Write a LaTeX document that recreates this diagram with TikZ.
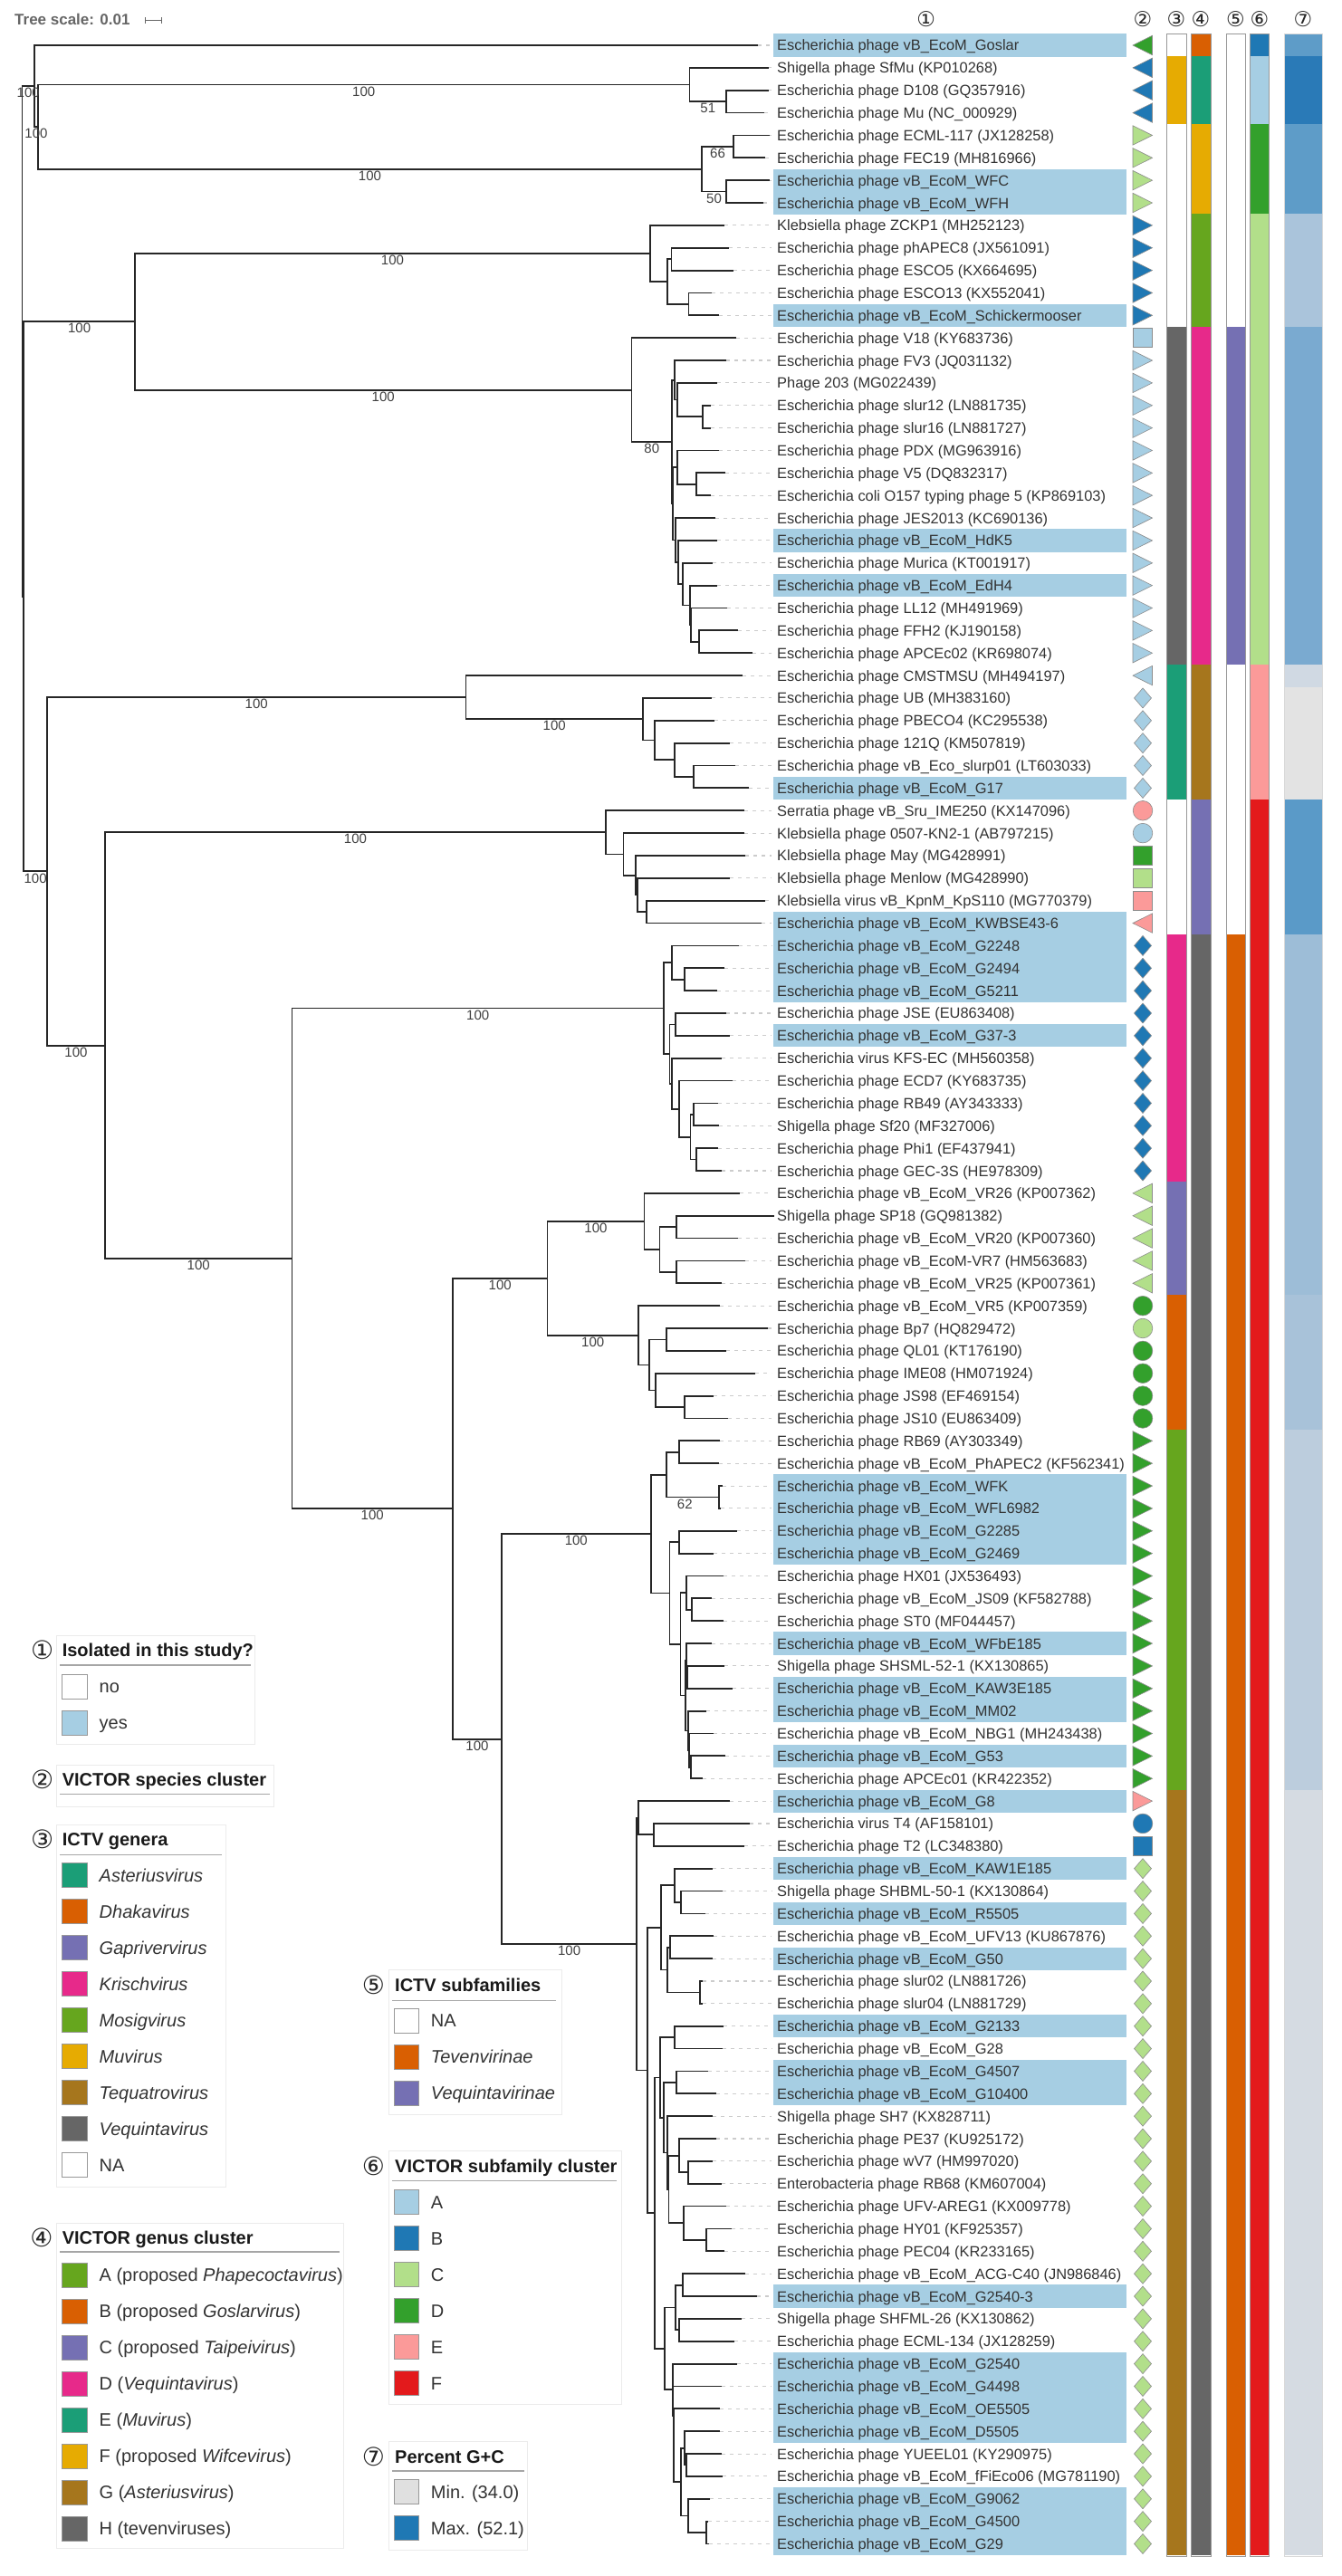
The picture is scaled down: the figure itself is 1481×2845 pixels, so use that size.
\documentclass[tikz,border=0pt]{standalone}
\usepackage{fontspec}
\setmainfont{Liberation Sans}
\newfontfamily\dejavu{DejaVu Sans}
\usetikzlibrary{calc}
\definecolor{hlc}{HTML}{A6CEE3}
\definecolor{pA}{HTML}{A6CEE3}
\definecolor{pB}{HTML}{1F78B4}
\definecolor{pC}{HTML}{B2DF8A}
\definecolor{pD}{HTML}{33A02C}
\definecolor{pE}{HTML}{FB9A99}
\definecolor{pF}{HTML}{E31A1C}
\definecolor{dTeal}{HTML}{1B9E77}
\definecolor{dOrange}{HTML}{D95F02}
\definecolor{dPurple}{HTML}{7570B3}
\definecolor{dPink}{HTML}{E7298A}
\definecolor{dGreen}{HTML}{66A61E}
\definecolor{dYellow}{HTML}{E6AB02}
\definecolor{dBrown}{HTML}{A6761D}
\definecolor{dGray}{HTML}{666666}
\definecolor{gcA}{HTML}{5E9CC8}
\definecolor{gcB}{HTML}{2A7AB7}
\definecolor{gcC}{HTML}{AAC4DB}
\definecolor{gcD}{HTML}{7AAAD0}
\definecolor{gcE}{HTML}{D0D9E3}
\definecolor{gcF}{HTML}{E3E3E3}
\definecolor{gcG}{HTML}{5A9AC8}
\definecolor{gcH}{HTML}{9DBDD7}
\definecolor{gcI}{HTML}{A8C2D9}
\definecolor{gcJ}{HTML}{BCCDDD}
\definecolor{gcK}{HTML}{D5DBE2}
\definecolor{gcMin}{HTML}{E0E0E0}

\newcommand{\leafrow}[4]{%
  \pgfmathsetmacro\yy{-(50+(#1-1)*24.86)}%
  \ifnum#3=1 \fill[hlc] (853.5,\yy-12.6) rectangle (1244,\yy+12.6);\fi
  \coordinate (t#1) at (#2,\yy);
  \coordinate (s#1) at (852,\yy);
  \draw[leader] (t#1) -- (s#1);
  \node[leaflab] (lab#1) at (858,\yy) {#4};
}
\newcommand{\tnode}[4]{%
  \path let \p1=(#3), \p2=(#4) in (#2pt,{0.5*(\y1+\y2)}) coordinate (#1);
  \draw[branch] (#3) -- (#1 |- #3) -- (#1 |- #4) -- (#4);
}
\newcommand{\bootlab}[3]{\node[bslab] (bs#2) at ($(#1 |- #2)!0.5!(#2)+(0,-7.5)$) {#3};}
\newcommand{\symRow}[3]{%
  \pgfmathsetmacro\yy{-(50+(#1-1)*24.86)}%
  \csname sym#2\endcsname{\yy}{#3}}
\newcommand{\symR}[2]{\filldraw[sym,fill=#2] (1251,#1+10.7) -- (1272.5,#1) -- (1251,#1-10.7) -- cycle;}
\newcommand{\symL}[2]{\filldraw[sym,fill=#2] (1272.5,#1+10.7) -- (1251,#1) -- (1272.5,#1-10.7) -- cycle;}
\newcommand{\symD}[2]{\filldraw[sym,fill=#2] (1262,#1+11) -- (1271.5,#1) -- (1262,#1-11) -- (1252.5,#1) -- cycle;}
\newcommand{\symC}[2]{\filldraw[sym,fill=#2] (1262,#1) circle[radius=10.8];}
\newcommand{\symS}[2]{\filldraw[sym,fill=#2] (1251.5,#1-10.5) rectangle (1272.5,#1+10.5);}
\newcommand{\stripseg}[5]{\fill[#5] (#1,{-(50+(#3-1)*24.86-12.43)}) rectangle (#2,{-(50+(#4-1)*24.86+12.43)});}
\newcommand{\lgitem}[6]{\draw[swatch,fill=#5] (#2,#4-13.5) rectangle (#2+27.4,#4+13.5); \node[lgtext] (#1) at (#3,#4) {#6};}

\begin{document}
\begin{tikzpicture}[x=1pt,y=1pt,
  branch/.style={line width=1.8pt, draw=black!85},
  leader/.style={draw=black!20, line width=1.1pt, dash pattern=on 4pt off 5pt},
  leaflab/.style={anchor=west, inner sep=0pt, font=\fontsize{16.4}{18}\selectfont, text=black!80, text height=12pt, text depth=0pt},
  bslab/.style={inner sep=0pt, font=\fontsize{15}{16}\selectfont, text=black!75},
  sym/.style={draw=black!45, line width=0.6pt},
  swatch/.style={draw=black!40, line width=0.8pt},
  lgtitle/.style={anchor=west, inner sep=0pt, font=\bfseries\fontsize{20}{22}\selectfont, text=black!90, text height=14.3pt, text depth=0pt},
  lgtext/.style={anchor=west, inner sep=0pt, font=\fontsize{20}{22}\selectfont, text=black!80, text height=14.3pt, text depth=0pt},
  lgnum/.style={inner sep=0pt, font=\dejavu\fontsize{28}{30}\selectfont, text=black!85},
  hdr/.style={inner sep=0pt, font=\dejavu\fontsize{23}{25}\selectfont, text=black!85},
  lgbox/.style={draw=black!8, line width=0.8pt},
  uline/.style={draw=black!35, line width=1.4pt},
  stripe/.style={draw=black!40, line width=0.8pt}]
\fill[white] (0,0) rectangle (1481,-2845);
\useasboundingbox (0,0) rectangle (1481,-2845);

% tree scale
\node[anchor=west, inner sep=0pt, font=\bfseries\fontsize{17}{19}\selectfont, text=black!60] (tscale) at (16,-21.7) {Tree scale: 0.01};
\draw[black!60, line width=1pt] (160,-22.7) -- (178,-22.7) (160,-19.5) -- (160,-26) (178,-19.5) -- (178,-26);

% leaves
\leafrow{1}{837}{1}{Escherichia phage vB\_EcoM\_Goslar}
\leafrow{2}{849}{0}{Shigella phage SfMu (KP010268)}
\leafrow{3}{849}{0}{Escherichia phage D108 (GQ357916)}
\leafrow{4}{844}{0}{Escherichia phage Mu (NC\_000929)}
\leafrow{5}{850}{0}{Escherichia phage ECML-117 (JX128258)}
\leafrow{6}{845}{0}{Escherichia phage FEC19 (MH816966)}
\leafrow{7}{850}{1}{Escherichia phage vB\_EcoM\_WFC}
\leafrow{8}{843}{1}{Escherichia phage vB\_EcoM\_WFH}
\leafrow{9}{799.5}{0}{Klebsiella phage ZCKP1 (MH252123)}
\leafrow{10}{805}{0}{Escherichia phage phAPEC8 (JX561091)}
\leafrow{11}{810}{0}{Escherichia phage ESCO5 (KX664695)}
\leafrow{12}{786}{0}{Escherichia phage ESCO13 (KX552041)}
\leafrow{13}{794}{1}{Escherichia phage vB\_EcoM\_Schickermooser}
\leafrow{14}{813}{0}{Escherichia phage V18 (KY683736)}
\leafrow{15}{802}{0}{Escherichia phage FV3 (JQ031132)}
\leafrow{16}{792}{0}{Phage 203 (MG022439)}
\leafrow{17}{785}{0}{Escherichia phage slur12 (LN881735)}
\leafrow{18}{785}{0}{Escherichia phage slur16 (LN881727)}
\leafrow{19}{794}{0}{Escherichia phage PDX (MG963916)}
\leafrow{20}{801}{0}{Escherichia phage V5 (DQ832317)}
\leafrow{21}{785}{0}{Escherichia coli O157 typing phage 5 (KP869103)}
\leafrow{22}{790}{0}{Escherichia phage JES2013 (KC690136)}
\leafrow{23}{792}{1}{Escherichia phage vB\_EcoM\_HdK5}
\leafrow{24}{787}{0}{Escherichia phage Murica (KT001917)}
\leafrow{25}{792}{1}{Escherichia phage vB\_EcoM\_EdH4}
\leafrow{26}{803}{0}{Escherichia phage LL12 (MH491969)}
\leafrow{27}{815}{0}{Escherichia phage FFH2 (KJ190158)}
\leafrow{28}{831}{0}{Escherichia phage APCEc02 (KR698074)}
\leafrow{29}{820}{0}{Escherichia phage CMSTMSU (MH494197)}
\leafrow{30}{785.5}{0}{Escherichia phage UB (MH383160)}
\leafrow{31}{789}{0}{Escherichia phage PBECO4 (KC295538)}
\leafrow{32}{806}{0}{Escherichia phage 121Q (KM507819)}
\leafrow{33}{812}{0}{Escherichia phage vB\_Eco\_slurp01 (LT603033)}
\leafrow{34}{827}{1}{Escherichia phage vB\_EcoM\_G17}
\leafrow{35}{822}{0}{Serratia phage vB\_Sru\_IME250 (KX147096)}
\leafrow{36}{822}{0}{Klebsiella phage 0507-KN2-1 (AB797215)}
\leafrow{37}{823}{0}{Klebsiella phage May (MG428991)}
\leafrow{38}{806}{0}{Klebsiella phage Menlow (MG428990)}
\leafrow{39}{845}{0}{Klebsiella virus vB\_KpnM\_KpS110 (MG770379)}
\leafrow{40}{840.7}{1}{Escherichia phage vB\_EcoM\_KWBSE43-6}
\leafrow{41}{815.7}{1}{Escherichia phage vB\_EcoM\_G2248}
\leafrow{42}{800}{1}{Escherichia phage vB\_EcoM\_G2494}
\leafrow{43}{791.5}{1}{Escherichia phage vB\_EcoM\_G5211}
\leafrow{44}{802}{0}{Escherichia phage JSE (EU863408)}
\leafrow{45}{806}{1}{Escherichia phage vB\_EcoM\_G37-3}
\leafrow{46}{796.5}{0}{Escherichia virus KFS-EC (MH560358)}
\leafrow{47}{809}{0}{Escherichia phage ECD7 (KY683735)}
\leafrow{48}{792.7}{0}{Escherichia phage RB49 (AY343333)}
\leafrow{49}{794}{0}{Shigella phage Sf20 (MF327006)}
\leafrow{50}{792.7}{0}{Escherichia phage Phi1 (EF437941)}
\leafrow{51}{797}{0}{Escherichia phage GEC-3S (HE978309)}
\leafrow{52}{817}{0}{Escherichia phage vB\_EcoM\_VR26 (KP007362)}
\leafrow{53}{854.6}{0}{Shigella phage SP18 (GQ981382)}
\leafrow{54}{814.6}{0}{Escherichia phage vB\_EcoM\_VR20 (KP007360)}
\leafrow{55}{823}{0}{Escherichia phage vB\_EcoM-VR7 (HM563683)}
\leafrow{56}{796.5}{0}{Escherichia phage vB\_EcoM\_VR25 (KP007361)}
\leafrow{57}{795.4}{0}{Escherichia phage vB\_EcoM\_VR5 (KP007359)}
\leafrow{58}{847.5}{0}{Escherichia phage Bp7 (HQ829472)}
\leafrow{59}{802}{0}{Escherichia phage QL01 (KT176190)}
\leafrow{60}{834}{0}{Escherichia phage IME08 (HM071924)}
\leafrow{61}{788}{0}{Escherichia phage JS98 (EF469154)}
\leafrow{62}{803.6}{0}{Escherichia phage JS10 (EU863409)}
\leafrow{63}{795.4}{0}{Escherichia phage RB69 (AY303349)}
\leafrow{64}{794}{0}{Escherichia phage vB\_EcoM\_PhAPEC2 (KF562341)}
\leafrow{65}{798}{1}{Escherichia phage vB\_EcoM\_WFK}
\leafrow{66}{795.5}{1}{Escherichia phage vB\_EcoM\_WFL6982}
\leafrow{67}{813.5}{1}{Escherichia phage vB\_EcoM\_G2285}
\leafrow{68}{788.3}{1}{Escherichia phage vB\_EcoM\_G2469}
\leafrow{69}{799}{0}{Escherichia phage HX01 (JX536493)}
\leafrow{70}{786}{0}{Escherichia phage vB\_EcoM\_JS09 (KF582788)}
\leafrow{71}{799}{0}{Escherichia phage ST0 (MF044457)}
\leafrow{72}{786}{1}{Escherichia phage vB\_EcoM\_WFbE185}
\leafrow{73}{800}{0}{Shigella phage SHSML-52-1 (KX130865)}
\leafrow{74}{809}{1}{Escherichia phage vB\_EcoM\_KAW3E185}
\leafrow{75}{780}{1}{Escherichia phage vB\_EcoM\_MM02}
\leafrow{76}{788}{0}{Escherichia phage vB\_EcoM\_NBG1 (MH243438)}
\leafrow{77}{801}{1}{Escherichia phage vB\_EcoM\_G53}
\leafrow{78}{776}{0}{Escherichia phage APCEc01 (KR422352)}
\leafrow{79}{806}{1}{Escherichia phage vB\_EcoM\_G8}
\leafrow{80}{828}{0}{Escherichia virus T4 (AF158101)}
\leafrow{81}{821.7}{0}{Escherichia phage T2 (LC348380)}
\leafrow{82}{786.7}{1}{Escherichia phage vB\_EcoM\_KAW1E185}
\leafrow{83}{797.7}{0}{Shigella phage SHBML-50-1 (KX130864)}
\leafrow{84}{779.3}{1}{Escherichia phage vB\_EcoM\_R5505}
\leafrow{85}{788}{0}{Escherichia phage vB\_EcoM\_UFV13 (KU867876)}
\leafrow{86}{786.7}{1}{Escherichia phage vB\_EcoM\_G50}
\leafrow{87}{776}{0}{Escherichia phage slur02 (LN881726)}
\leafrow{88}{776}{0}{Escherichia phage slur04 (LN881729)}
\leafrow{89}{799}{1}{Escherichia phage vB\_EcoM\_G2133}
\leafrow{90}{797.7}{0}{Escherichia phage vB\_EcoM\_G28}
\leafrow{91}{781.7}{1}{Escherichia phage vB\_EcoM\_G4507}
\leafrow{92}{790.7}{1}{Escherichia phage vB\_EcoM\_G10400}
\leafrow{93}{787.3}{0}{Shigella phage SH7 (KX828711)}
\leafrow{94}{791}{0}{Escherichia phage PE37 (KU925172)}
\leafrow{95}{786.7}{0}{Escherichia phage wV7 (HM997020)}
\leafrow{96}{796.7}{0}{Enterobacteria phage RB68 (KM607004)}
\leafrow{97}{801.7}{0}{Escherichia phage UFV-AREG1 (KX009778)}
\leafrow{98}{807.7}{0}{Escherichia phage HY01 (KF925357)}
\leafrow{99}{800}{0}{Escherichia phage PEC04 (KR233165)}
\leafrow{100}{822.7}{0}{Escherichia phage vB\_EcoM\_ACG-C40 (JN986846)}
\leafrow{101}{836}{1}{Escherichia phage vB\_EcoM\_G2540-3}
\leafrow{102}{819.3}{0}{Shigella phage SHFML-26 (KX130862)}
\leafrow{103}{810.7}{0}{Escherichia phage ECML-134 (JX128259)}
\leafrow{104}{814}{1}{Escherichia phage vB\_EcoM\_G2540}
\leafrow{105}{796.7}{1}{Escherichia phage vB\_EcoM\_G4498}
\leafrow{106}{795}{1}{Escherichia phage vB\_EcoM\_OE5505}
\leafrow{107}{795}{1}{Escherichia phage vB\_EcoM\_D5505}
\leafrow{108}{796.7}{0}{Escherichia phage YUEEL01 (KY290975)}
\leafrow{109}{798.3}{0}{Escherichia phage vB\_EcoM\_fFiEco06 (MG781190)}
\leafrow{110}{784.3}{1}{Escherichia phage vB\_EcoM\_G9062}
\leafrow{111}{781.7}{1}{Escherichia phage vB\_EcoM\_G4500}
\leafrow{112}{782.7}{1}{Escherichia phage vB\_EcoM\_G29}

% ---- tree: top clades
\tnode{mu2}{802}{t3}{t4}
\tnode{mu}{761.5}{t2}{mu2}
\tnode{wf1}{810}{t5}{t6}
\tnode{wf2}{802}{t7}{t8}
\tnode{wf}{775}{wf1}{wf2}
\tnode{B}{42}{mu}{wf}
\tnode{A}{38}{t1}{B}
% ZCKP1 clade
\tnode{e1}{741.5}{t10}{t11}
\tnode{e2}{760.5}{t12}{t13}
\tnode{e3}{737}{e1}{e2}
\tnode{E}{718}{t9}{e3}
% V18 clade
\tnode{h0}{776}{t17}{t18}
\tnode{H1}{748}{t16}{h0}
\tnode{H2}{745}{t15}{H1}
\tnode{j1}{769}{t20}{t21}
\tnode{j2}{748}{t19}{j1}
\tnode{nff}{772}{t27}{t28}
\tnode{nl}{763}{t26}{nff}
\tnode{ne}{762}{t25}{nl}
\tnode{nm}{754}{t24}{ne}
\tnode{nh}{749}{t23}{nm}
\tnode{nj}{746}{t22}{nh}
\tnode{J}{743.3}{j2}{nj}
\tnode{G}{742}{H2}{J}
\tnode{F}{697.5}{t14}{G}
\tnode{D}{149}{E}{F}
% CMSTMSU clade
\tnode{K4}{766}{t33}{t34}
\tnode{K3}{745}{t32}{K4}
\tnode{K2}{723}{t31}{K3}
\tnode{K}{710}{t30}{K2}
\tnode{L}{514.5}{t29}{K}
% Serratia clade
\tnode{O5}{714}{t39}{t40}
\tnode{O4}{704}{t38}{O5}
\tnode{O3}{702}{t37}{O4}
\tnode{O2}{688.5}{t36}{O3}
\tnode{O}{669}{t35}{O2}
% Krischvirus
\tnode{q1b}{756}{t42}{t43}
\tnode{Q1}{741.6}{t41}{q1b}
\tnode{Q3}{746}{t44}{t45}
\tnode{qa}{766}{t48}{t49}
\tnode{qb}{769}{t50}{t51}
\tnode{qc}{762.5}{qa}{qb}
\tnode{qd}{750}{t47}{qc}
\tnode{qe}{741.6}{t46}{qd}
\tnode{Q2}{739.5}{Q3}{qe}
\tnode{Q}{733}{Q1}{Q2}
% Gaprivervirus
\tnode{u2}{747}{t53}{t54}
\tnode{u3}{747}{t55}{t56}
\tnode{U1}{728.5}{u2}{u3}
\tnode{U}{711.5}{t52}{U1}
% Dhakavirus
\tnode{v1}{736}{t58}{t59}
\tnode{v2}{756}{t61}{t62}
\tnode{v3}{724}{t60}{v2}
\tnode{v4}{717}{v1}{v3}
\tnode{V}{705}{t57}{v4}
\tnode{T}{604.5}{U}{V}
% Mosigvirus
\tnode{x1a}{750}{t63}{t64}
\tnode{x1b}{794}{t65}{t66}
\tnode{X1}{736}{x1a}{x1b}
\tnode{x2a}{750}{t67}{t68}
\tnode{x2b}{764}{t70}{t71}
\tnode{x2c}{758}{t69}{x2b}
\tnode{w3}{759}{t73}{t74}
\tnode{w1}{758}{t72}{w3}
\tnode{w6}{763}{t77}{t78}
\tnode{w5}{761}{t76}{w6}
\tnode{w4}{760}{t75}{w5}
\tnode{wg}{757}{w1}{w4}
\tnode{Z}{751.5}{x2c}{wg}
\tnode{X2}{739.5}{x2a}{Z}
\tnode{X}{718.6}{X1}{X2}
% Tequatrovirus
\tnode{y0}{722}{t80}{t81}
\tnode{Y1}{705}{t79}{y0}
\tnode{y3a1}{751.7}{t83}{t84}
\tnode{y3a}{745}{t82}{y3a1}
\tnode{y3b1}{740}{t85}{t86}
\tnode{y3b2}{772.7}{t87}{t88}
\tnode{y3b}{736.7}{y3b1}{y3b2}
\tnode{Y3}{730}{y3a}{y3b}
\tnode{ga}{745}{t89}{t90}
\tnode{gb1}{747}{t91}{t92}
\tnode{gp2}{760}{t95}{t96}
\tnode{gp}{750}{t94}{gp2}
\tnode{gu2}{780}{t98}{t99}
\tnode{gu}{755}{t97}{gu2}
\tnode{gd}{738.5}{gp}{gu}
\tnode{gc}{736.7}{t93}{gd}
\tnode{gb}{732.7}{gb1}{gc}
\tnode{Y5}{729.3}{ga}{gb}
\tnode{ha1}{754}{t100}{t101}
\tnode{ha2}{750}{t102}{t103}
\tnode{hA}{746}{ha1}{ha2}
\tnode{hY}{758}{t108}{t109}
\tnode{hD}{756}{t107}{hY}
\tnode{hG2}{780}{t111}{t112}
\tnode{hG}{760}{t110}{hG2}
\tnode{hL}{752}{hD}{hG}
\tnode{hB3}{744}{t106}{hL}
\tnode{hB2}{743.5}{t105}{hB3}
\tnode{hB}{742.7}{t104}{hB2}
\tnode{Y6}{734}{hA}{hB}
\tnode{Y4}{723.3}{Y5}{Y6}
\tnode{Y2}{715}{Y3}{Y4}
\tnode{Y}{703.3}{Y1}{Y2}
% backbone
\tnode{W}{554}{X}{Y}
\tnode{S}{500}{T}{W}
\tnode{P}{322.5}{Q}{S}
\tnode{N}{116}{O}{P}
\tnode{M}{52}{L}{N}
\tnode{R2}{26.3}{D}{M}
\tnode{R}{24.5}{A}{R2}

% bootstrap labels
\bootlab{R}{A}{100}
\bootlab{A}{B}{100}
\bootlab{B}{mu}{100}
\bootlab{mu}{mu2}{51}
\bootlab{B}{wf}{100}
\bootlab{wf}{wf1}{66}
\bootlab{wf}{wf2}{50}
\bootlab{R2}{D}{100}
\bootlab{D}{E}{100}
\bootlab{D}{F}{100}
\bootlab{F}{G}{80}
\bootlab{R2}{M}{100}
\bootlab{M}{L}{100}
\bootlab{L}{K}{100}
\bootlab{M}{N}{100}
\bootlab{N}{O}{100}
\bootlab{N}{P}{100}
\bootlab{P}{Q}{100}
\bootlab{P}{S}{100}
\bootlab{S}{T}{100}
\bootlab{T}{U}{100}
\bootlab{T}{V}{100}
\bootlab{S}{W}{100}
\bootlab{W}{X}{100}
\bootlab{X}{x1b}{62}
\bootlab{W}{Y}{100}

% header
\node[hdr] (hd1) at (1022.7,-21.4) {①};
\node[hdr] (hd2) at (1262,-21.4) {②};
\node[hdr] (hd3) at (1299,-21.4) {③};
\node[hdr] (hd4) at (1326,-21.4) {④};
\node[hdr] (hd5) at (1364.5,-21.4) {⑤};
\node[hdr] (hd6) at (1391,-21.4) {⑥};
\node[hdr] (hd7) at (1439,-21.4) {⑦};

% column 2 symbols
\symRow{1}{L}{pD}
\foreach \r in {2,3,4} {\symRow{\r}{L}{pB}}
\foreach \r in {5,...,8} {\symRow{\r}{R}{pC}}
\foreach \r in {9,...,13} {\symRow{\r}{R}{pB}}
\symRow{14}{S}{pA}
\foreach \r in {15,...,28} {\symRow{\r}{R}{pA}}
\symRow{29}{L}{pA}
\foreach \r in {30,...,34} {\symRow{\r}{D}{pA}}
\symRow{35}{C}{pE}
\symRow{36}{C}{pA}
\symRow{37}{S}{pD}
\symRow{38}{S}{pC}
\symRow{39}{S}{pE}
\symRow{40}{L}{pE}
\foreach \r in {41,...,51} {\symRow{\r}{D}{pB}}
\foreach \r in {52,...,56} {\symRow{\r}{L}{pC}}
\symRow{57}{C}{pD}
\symRow{58}{C}{pC}
\foreach \r in {59,...,62} {\symRow{\r}{C}{pD}}
\foreach \r in {63,...,78} {\symRow{\r}{R}{pD}}
\symRow{79}{R}{pE}
\symRow{80}{C}{pB}
\symRow{81}{S}{pB}
\foreach \r in {82,...,112} {\symRow{\r}{D}{pC}}

% column 3: ICTV genera
\stripseg{1288.5}{1310}{2}{4}{dYellow}
\stripseg{1288.5}{1310}{14}{28}{dGray}
\stripseg{1288.5}{1310}{29}{34}{dTeal}
\stripseg{1288.5}{1310}{41}{51}{dPink}
\stripseg{1288.5}{1310}{52}{56}{dPurple}
\stripseg{1288.5}{1310}{57}{62}{dOrange}
\stripseg{1288.5}{1310}{63}{78}{dGreen}
\stripseg{1288.5}{1310}{79}{112}{dBrown}
% column 4: VICTOR genus
\stripseg{1315.5}{1337}{1}{1}{dOrange}
\stripseg{1315.5}{1337}{2}{4}{dTeal}
\stripseg{1315.5}{1337}{5}{8}{dYellow}
\stripseg{1315.5}{1337}{9}{13}{dGreen}
\stripseg{1315.5}{1337}{14}{28}{dPink}
\stripseg{1315.5}{1337}{29}{34}{dBrown}
\stripseg{1315.5}{1337}{35}{40}{dPurple}
\stripseg{1315.5}{1337}{41}{112}{dGray}
% column 5: ICTV subfamilies
\stripseg{1354}{1375}{14}{28}{dPurple}
\stripseg{1354}{1375}{41}{112}{dOrange}
% column 6: VICTOR subfamily
\stripseg{1380}{1401.5}{1}{1}{pB}
\stripseg{1380}{1401.5}{2}{4}{pA}
\stripseg{1380}{1401.5}{5}{8}{pD}
\stripseg{1380}{1401.5}{9}{28}{pC}
\stripseg{1380}{1401.5}{29}{34}{pE}
\stripseg{1380}{1401.5}{35}{112}{pF}
% column 7: G+C
\stripseg{1418}{1460}{1}{1}{gcA}
\stripseg{1418}{1460}{2}{4}{gcB}
\stripseg{1418}{1460}{5}{8}{gcA}
\stripseg{1418}{1460}{9}{13}{gcC}
\stripseg{1418}{1460}{14}{28}{gcD}
\stripseg{1418}{1460}{29}{29}{gcE}
\stripseg{1418}{1460}{30}{34}{gcF}
\stripseg{1418}{1460}{35}{40}{gcG}
\stripseg{1418}{1460}{41}{56}{gcH}
\stripseg{1418}{1460}{57}{62}{gcI}
\stripseg{1418}{1460}{63}{78}{gcJ}
\stripseg{1418}{1460}{79}{112}{gcK}
% strip outlines
\draw[stripe] (1288.5,-37.57) rectangle (1310,-2823.03);
\draw[stripe] (1315.5,-37.57) rectangle (1337,-2823.03);
\draw[stripe] (1354,-37.57) rectangle (1375,-2823.03);
\draw[stripe] (1380,-37.57) rectangle (1401.5,-2823.03);
\draw[black!15, line width=0.6pt] (1418,-37.57) rectangle (1460,-2823.03);

% ---- legends
% 1
\draw[lgbox] (62,-1806) rectangle (281,-1926);
\node[lgnum] (ln1) at (46.6,-1822.7) {①};
\node[lgtitle] (lt1) at (68.6,-1822.7) {Isolated in this study?};
\draw[uline] (66,-1839) -- (277,-1839);
\lgitem{lno}{68.6}{109.5}{-1862.5}{white}{no}
\lgitem{lyes}{68.6}{109.5}{-1902.5}{hlc}{yes}
% 2
\draw[lgbox] (62,-1949) rectangle (302,-1995.5);
\node[lgnum] (ln2) at (46.6,-1965) {②};
\node[lgtitle] (lt2) at (68.6,-1965) {VICTOR species cluster};
\draw[uline] (66,-1981.4) -- (298,-1981.4);
% 3
\draw[lgbox] (62,-2015) rectangle (249,-2415.6);
\node[lgnum] (ln3) at (46.6,-2031.7) {③};
\node[lgtitle] (lt3) at (68.6,-2031.7) {ICTV genera};
\draw[uline] (66,-2048.4) -- (245,-2048.4);
\lgitem{g1}{68.6}{109.5}{-2071.3}{dTeal}{\textit{Asteriusvirus}}
\lgitem{g2}{68.6}{109.5}{-2111.3}{dOrange}{\textit{Dhakavirus}}
\lgitem{g3}{68.6}{109.5}{-2151.3}{dPurple}{\textit{Gaprivervirus}}
\lgitem{g4}{68.6}{109.5}{-2191.3}{dPink}{\textit{Krischvirus}}
\lgitem{g5}{68.6}{109.5}{-2231.3}{dGreen}{\textit{Mosigvirus}}
\lgitem{g6}{68.6}{109.5}{-2271.3}{dYellow}{\textit{Muvirus}}
\lgitem{g7}{68.6}{109.5}{-2311.3}{dBrown}{\textit{Tequatrovirus}}
\lgitem{g8}{68.6}{109.5}{-2351.3}{dGray}{\textit{Vequintavirus}}
\lgitem{g9}{68.6}{109.5}{-2391.3}{white}{NA}
% 4
\draw[lgbox] (62,-2455.6) rectangle (379,-2814);
\node[lgnum] (ln4) at (46,-2471.7) {④};
\node[lgtitle] (lt4) at (68.6,-2471.7) {VICTOR genus cluster};
\draw[uline] (66,-2487) -- (375,-2487);
\lgitem{v1}{68.6}{109.5}{-2512.7}{dGreen}{A (proposed \textit{Phapecoctavirus})}
\lgitem{v2}{68.6}{109.5}{-2552.7}{dOrange}{B (proposed \textit{Goslarvirus})}
\lgitem{v3}{68.6}{109.5}{-2592.7}{dPurple}{C (proposed \textit{Taipeivirus})}
\lgitem{v4}{68.6}{109.5}{-2632.7}{dPink}{D (\textit{Vequintavirus})}
\lgitem{v5}{68.6}{109.5}{-2672.7}{dTeal}{E (\textit{Muvirus})}
\lgitem{v6}{68.6}{109.5}{-2712.7}{dYellow}{F (proposed \textit{Wifcevirus})}
\lgitem{v7}{68.6}{109.5}{-2752.7}{dBrown}{G (\textit{Asteriusvirus})}
\lgitem{v8}{68.6}{109.5}{-2792.7}{dGray}{H (tevenviruses)}
% 5
\draw[lgbox] (429,-2175.5) rectangle (620,-2335);
\node[lgnum] (ln5) at (412.3,-2192.6) {⑤};
\node[lgtitle] (lt5) at (436,-2192.6) {ICTV subfamilies};
\draw[uline] (433,-2209.7) -- (614,-2209.7);
\lgitem{s1}{435}{475.7}{-2231.4}{white}{NA}
\lgitem{s2}{435}{475.7}{-2271.4}{dOrange}{\textit{Tevenvirinae}}
\lgitem{s3}{435}{475.7}{-2311.4}{dPurple}{\textit{Vequintavirinae}}
% 6
\draw[lgbox] (429,-2375.4) rectangle (686,-2655);
\node[lgnum] (ln6) at (412.3,-2392.4) {⑥};
\node[lgtitle] (lt6) at (436,-2392.4) {VICTOR subfamily cluster};
\draw[uline] (433,-2408.3) -- (681,-2408.3);
\lgitem{f1}{435}{475.7}{-2432.3}{pA}{A}
\lgitem{f2}{435}{475.7}{-2472.3}{pB}{B}
\lgitem{f3}{435}{475.7}{-2512.3}{pC}{C}
\lgitem{f4}{435}{475.7}{-2552.3}{pD}{D}
\lgitem{f5}{435}{475.7}{-2592.3}{pE}{E}
\lgitem{f6}{435}{475.7}{-2632.3}{pF}{F}
% 7
\draw[lgbox] (429,-2696) rectangle (582,-2816);
\node[lgnum] (ln7) at (412.3,-2713) {⑦};
\node[lgtitle] (lt7) at (436,-2713) {Percent G+C};
\draw[uline] (433,-2729) -- (579,-2729);
\lgitem{c1}{435}{475.7}{-2752}{gcMin}{Min. (34.0)}
\lgitem{c2}{435}{475.7}{-2792}{pB}{Max. (52.1)}
\end{tikzpicture}
\end{document}
